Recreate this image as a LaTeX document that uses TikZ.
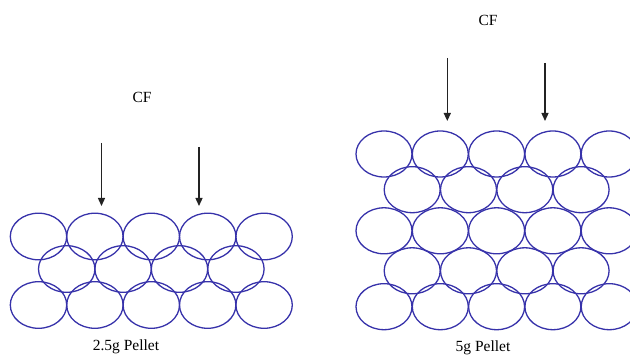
\documentclass[tikz,border=0pt]{standalone}
\usepackage{fontspec}
\setmainfont{Liberation Serif}
\usetikzlibrary{arrows.meta}
\definecolor{beadblue}{RGB}{55,50,170}
\definecolor{forcegray}{RGB}{35,35,35}
\begin{document}
\begin{tikzpicture}[x=1pt,y=-1pt,
  bead/.style={draw=beadblue, line width=1.3pt},
  force/.style={draw=forcegray, line width=1.3pt,
    -{Triangle[width=7pt,length=8pt]}},
  lbl/.style={font=\fontsize{15.5}{18}\selectfont, inner sep=0pt}]
\useasboundingbox (0,0) rectangle (630,363);

% ---- 2.5 g pellet: three layers of particles ----
\foreach \i in {0,...,4} {
  \draw[bead] ({38.5+56.4*\i},236.5) ellipse [x radius=28.2pt, y radius=23.3pt];
  \draw[bead] ({38.5+56.4*\i},305) ellipse [x radius=28.2pt, y radius=23.3pt];
}
\foreach \i in {0,...,3} {
  \draw[bead] ({66.7+56.4*\i},269) ellipse [x radius=28.2pt, y radius=23.3pt];
}

% ---- 5 g pellet: five layers of particles ----
\foreach \y in {154,230.8,306.7} {
  \foreach \i in {0,...,4} {
    \draw[bead] ({384+56.3*\i},\y) ellipse [x radius=28pt, y radius=23pt];
  }
}
\foreach \y in {189.7,270.8} {
  \foreach \i in {0,...,3} {
    \draw[bead] ({412.2+56.3*\i},\y) ellipse [x radius=28pt, y radius=23pt];
  }
}

% ---- compaction force labels and arrows ----
\node[lbl] (cfA) at (142,97.5) {CF};
\node[lbl] (cfB) at (488,20) {CF};

\coordinate (a1s) at (101.5,143);  \coordinate (a1e) at (101.5,206);
\coordinate (a2s) at (199,147);    \coordinate (a2e) at (199,206);
\coordinate (b1s) at (447.3,58);   \coordinate (b1e) at (447.3,121);
\coordinate (b2s) at (545,63);     \coordinate (b2e) at (545,121);
\draw[force] (a1s) -- (a1e);
\draw[force] (a2s) -- (a2e);
\draw[force] (b1s) -- (b1e);
\draw[force] (b2s) -- (b2e);

% ---- captions ----
\node[lbl] (capA) at (126,347) {2.5g Pellet};
\node[lbl] (capB) at (483,348) {5g Pellet};
\end{tikzpicture}
\end{document}
